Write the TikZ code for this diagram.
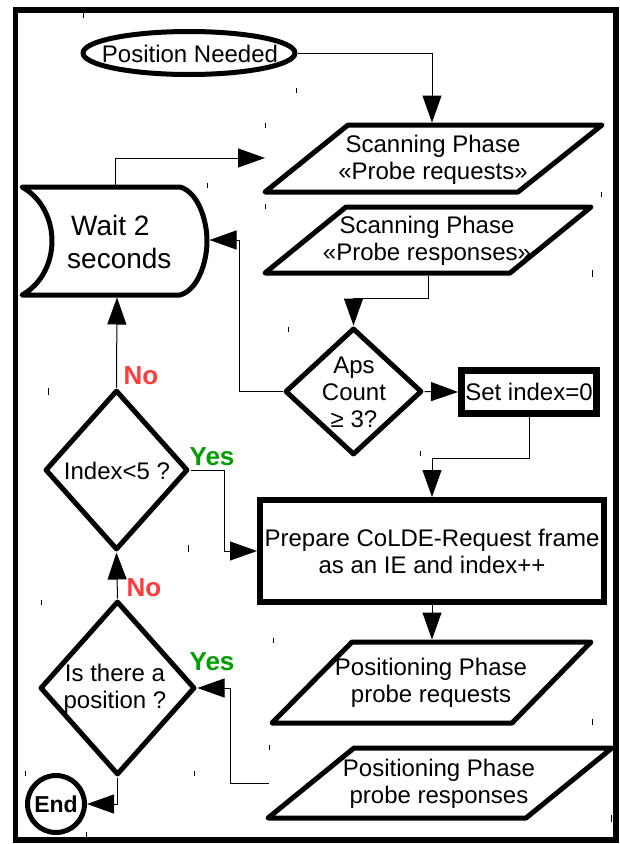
\documentclass[tikz,border=0pt]{standalone}
\usepackage{fontspec}
\setmainfont{Liberation Sans}
\usetikzlibrary{arrows.meta,shapes.geometric}
\definecolor{nored}{RGB}{255,59,59}
\definecolor{yesgreen}{RGB}{0,158,0}
\begin{document}
\begin{tikzpicture}[x=1pt,y=-1pt,
  conn/.style={line width=1pt,-{Triangle[length=27pt,width=19pt]}},
  shp/.style={draw,line width=5pt,line join=round},
  txt/.style={font=\fontsize{24}{27}\selectfont,align=center,inner sep=0pt},
  bigtxt/.style={font=\fontsize{28}{33}\selectfont,align=left,inner sep=0pt},
  nolab/.style={font=\fontsize{26}{30}\selectfont\bfseries,text=nored,inner sep=0pt},
  yeslab/.style={font=\fontsize{26}{30}\selectfont\bfseries,text=yesgreen,inner sep=0pt},
  dia/.style={shp,diamond,inner sep=0pt},
  tick/.style={line width=0.8pt}
]
\useasboundingbox (0,0) rectangle (619,844);
% outer frame
\draw[line width=5.5pt] (15.5,10) rectangle (616,840);

% start ellipse
\node[shp,ellipse,minimum width=212pt,minimum height=43pt,inner sep=0pt] (start) at (189,53) {};
\node[txt] at (190,54) {Position Needed};

% Scanning phase requests
\draw[shp] (348,125) -- (602,125) -- (518,192) -- (265,192) -- cycle;
\node[txt] (sreq) at (433,160) {Scanning Phase\\«Probe requests»};
\coordinate (sreqtop) at (432,122.5);
\coordinate (sreqleft) at (265,158);

% Scanning phase responses
\draw[shp] (346,207) -- (591,207) -- (510,273) -- (265,273) -- cycle;
\node[txt] (sres) at (427,241) {Scanning Phase\\«Probe responses»};
\coordinate (sresbot) at (428,275.5);

% Wait 2 seconds
\draw[shp] (22,187) -- (180,187)
  .. controls (198,192) and (207,220) .. (207,241)
  .. controls (207,262) and (198,290) .. (180,295)
  -- (22,295)
  .. controls (42,284) and (52,262) .. (52,241)
  .. controls (52,220) and (42,198) .. (22,187) -- cycle;
\node[bigtxt,anchor=west] (wait) at (67,242) {\hspace*{4pt}Wait 2\\seconds};
\coordinate (waittop) at (115,184.5);
\coordinate (waitright) at (209.5,240);
\coordinate (waitbot) at (117,297.5);

% Aps count diamond
\node[dia,minimum width=137pt,minimum height=127pt] (aps) at (353.5,391.5) {};
\node[txt] at (354,392) {Aps\\Count\\≥ 3?};

% Set index
\node[draw,line width=7pt,minimum width=135pt,minimum height=43pt,inner sep=0pt,txt] (setidx) at (529,392) {Set index=0};

% Prepare
\node[draw,line width=6pt,minimum width=344pt,minimum height=102pt,inner sep=0pt,txt] (prep) at (432,551) {Prepare CoLDE-Request frame\\as an IE and index++};

% Positioning requests
\draw[shp] (352,642) -- (591,642) -- (512,723) -- (272,723) -- cycle;
\node[txt] (preq) at (431,683) {Positioning Phase\\probe requests};
\coordinate (preqtop) at (432,639.5);

% Positioning responses
\draw[shp] (354,748) -- (612,748) -- (526,818) -- (268,818) -- cycle;
\node[txt] (pres) at (439,784) {Positioning Phase\\probe responses};
\coordinate (presleft) at (269,783);

% Index diamond
\node[dia,minimum width=143pt,minimum height=160pt] (idx) at (116.5,470) {};
\node[txt] at (117,471) {Index<5 ?};

% Is there a position diamond
\node[dia,minimum width=155pt,minimum height=174pt] (isp) at (117.5,688) {};
\node[txt] at (115,689) {Is there a\\position ?};

% End
\node[shp,circle,minimum size=57pt,inner sep=0pt,font=\fontsize{23}{27}\selectfont\bfseries] (end) at (56,804) {End};

% labels
\node[nolab] (no1) at (141,376) {No};
\node[yeslab] (yes1) at (212,457) {Yes};
\node[nolab] (no2) at (144,588) {No};
\node[yeslab] (yes2) at (212,662) {Yes};

% connectors
\draw[conn] (start.east) -| (sreqtop);
\draw[conn] (waittop) |- (sreqleft);
\draw[conn] (sresbot) |- ([yshift=27pt]aps.north) -- (aps.north);
\draw[conn] (aps.west) -- ++(-43,0) |- (waitright);
\draw[conn] (aps.east) -- (setidx.west);
\draw[conn] (setidx.south) -- ++(0,41) -| (prep.north);
\draw[conn] (prep.south) -- (preqtop);
\draw[conn] (presleft) -- ++(-39,0) |- (isp.east);
\draw[conn] (isp.south) |- (end.east);
\draw[conn] (isp.north) -- (idx.south);
\draw[conn] (idx.north) -- (waitbot);
\draw[conn] (idx.east) -- ++(34,0) |- (prep.west);

% small tick marks
\foreach \x/\ya/\yb in {83/13/18, 296/88/93, 265/123/128, 207/183/188, 601/192/197,
  265/204/209, 592/270/277, 288/327/332, 48/388/395, 420/451/456, 188/545/552,
  41/600/605, 273/638/643, 592/719/725, 269/745/750, 25/771/776, 194/771/776,
  611/815/822, 86/832/837}
  \draw[tick] (\x,\ya) -- (\x,\yb);
\end{tikzpicture}
\end{document}
